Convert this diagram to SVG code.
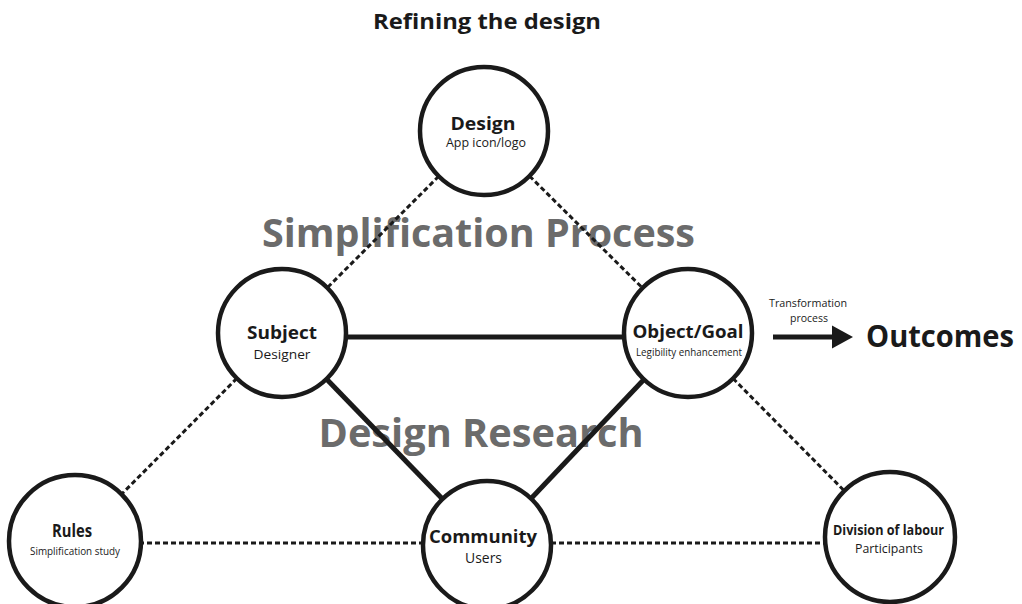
<svg xmlns="http://www.w3.org/2000/svg" width="1022" height="604" viewBox="0 0 1022 604">
<style>
  text { font-family: "Open Sans", "Noto Sans", "DejaVu Sans", sans-serif; fill: #1a1a1a; text-anchor: middle; }
  .b { font-weight: 700; }
  .big { font-weight: 700; fill: #6b6b6b; font-size: 40px; }
  .node { fill: #ffffff; stroke: #1a1a1a; stroke-width: 4.5; }
  .solid { stroke: #1a1a1a; stroke-width: 5; fill: none; }
  .dot { stroke: #1a1a1a; stroke-width: 3; stroke-dasharray: 5 3; fill: none; }
</style>
<rect width="1022" height="604" fill="#ffffff"/>
<text class="b" x="487" y="29" font-size="21" textLength="228" lengthAdjust="spacingAndGlyphs">Refining the design</text>
<g id="labels-bg">
  <text class="big" x="478.5" y="247" textLength="433" lengthAdjust="spacingAndGlyphs">Simplification Process</text>
  <text class="big" x="481" y="447" textLength="325" lengthAdjust="spacingAndGlyphs">Design Research</text>
</g>
<g id="connectors">
  <line class="solid" x1="282" y1="337" x2="688" y2="337"/>
  <line class="solid" x1="282" y1="333" x2="487" y2="545"/>
  <line class="solid" x1="688" y1="333" x2="487" y2="545"/>
  <line class="dot" x1="484" y1="131" x2="282" y2="333"/>
  <line class="dot" x1="484" y1="131" x2="688" y2="333"/>
  <line class="dot" x1="282" y1="333" x2="75" y2="541"/>
  <line class="dot" x1="688" y1="333" x2="890" y2="537"/>
  <line class="dot" x1="75" y1="543" x2="487" y2="543"/>
  <line class="dot" x1="487" y1="543" x2="890" y2="543"/>
  <line x1="773" y1="337" x2="833" y2="337" stroke="#1a1a1a" stroke-width="5"/>
  <path d="M832,325.5 L853,337 L832,348.5 Z" fill="#1a1a1a"/>
  <text x="808" y="307" font-size="11.5" textLength="78" lengthAdjust="spacingAndGlyphs">Transformation</text>
  <text x="809" y="322" font-size="11.5" textLength="38" lengthAdjust="spacingAndGlyphs">process</text>
</g>
<g id="node-design">
  <circle class="node" cx="484" cy="131" r="64"/>
  <text class="b" x="483" y="130" font-size="18" textLength="65" lengthAdjust="spacingAndGlyphs">Design</text>
  <text x="486" y="147" font-size="12.5" textLength="80" lengthAdjust="spacingAndGlyphs">App icon/logo</text>
</g>
<g id="node-subject">
  <circle class="node" cx="282" cy="333" r="64"/>
  <text class="b" x="282" y="339" font-size="18" textLength="70" lengthAdjust="spacingAndGlyphs">Subject</text>
  <text x="282" y="359" font-size="13.5" textLength="57" lengthAdjust="spacingAndGlyphs">Designer</text>
</g>
<g id="node-object">
  <circle class="node" cx="688" cy="333" r="64"/>
  <text class="b" x="688" y="338" font-size="18" textLength="111" lengthAdjust="spacingAndGlyphs">Object/Goal</text>
  <text x="689" y="356" font-size="10" textLength="106" lengthAdjust="spacingAndGlyphs">Legibility enhancement</text>
</g>
<g id="node-rules">
  <circle class="node" cx="75" cy="541" r="66"/>
  <text class="b" x="72" y="537" font-size="18" textLength="40" lengthAdjust="spacingAndGlyphs">Rules</text>
  <text x="75" y="555" font-size="10.5" textLength="90" lengthAdjust="spacingAndGlyphs">Simplification study</text>
</g>
<g id="node-community">
  <circle class="node" cx="487" cy="545" r="64"/>
  <text class="b" x="483" y="543" font-size="18.5" textLength="108" lengthAdjust="spacingAndGlyphs">Community</text>
  <text x="483.5" y="563" font-size="14" textLength="37" lengthAdjust="spacingAndGlyphs">Users</text>
</g>
<g id="node-division">
  <circle class="node" cx="890" cy="537" r="65"/>
  <text class="b" x="888.5" y="535" font-size="14.5" textLength="111" lengthAdjust="spacingAndGlyphs">Division of labour</text>
  <text x="889" y="553" font-size="13" textLength="68" lengthAdjust="spacingAndGlyphs">Participants</text>
</g>
<text class="b" x="940" y="347" font-size="31" textLength="148" lengthAdjust="spacingAndGlyphs">Outcomes</text>
</svg>
